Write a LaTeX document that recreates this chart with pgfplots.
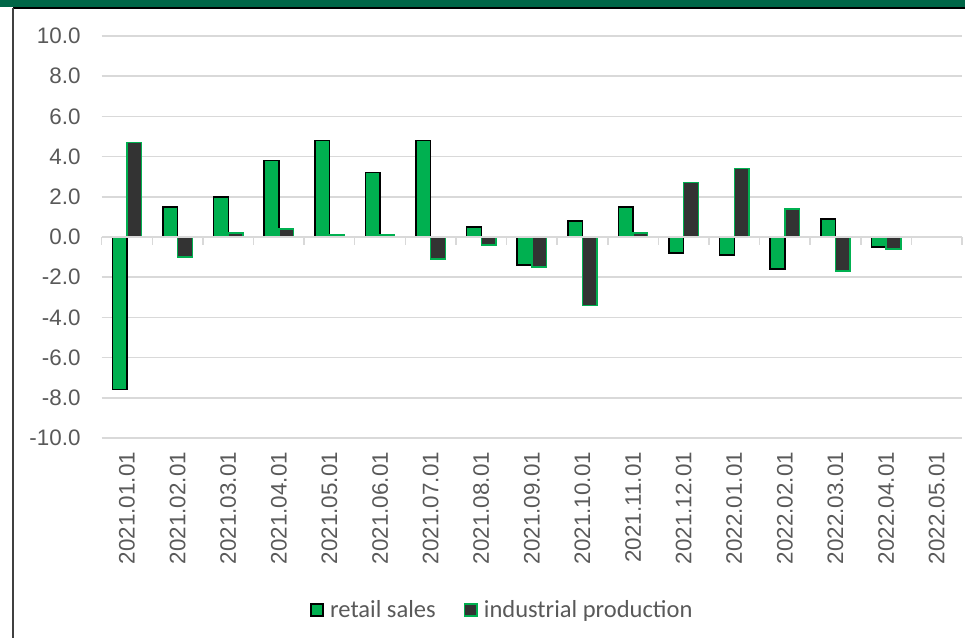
\documentclass[border=0pt]{standalone}
\usepackage{pgfplots}
\pgfplotsset{compat=1.18}
\usepackage{fontspec}
\setmainfont{Liberation Sans}
\newfontfamily\legfont{Carlito}
\definecolor{rsgreen}{RGB}{0,176,80}
\definecolor{ipdark}{RGB}{51,51,51}
\definecolor{gridgray}{RGB}{217,217,217}
\definecolor{txtgray}{RGB}{89,89,89}
\definecolor{band}{RGB}{0,102,71}
\definecolor{border}{RGB}{64,64,64}
\begin{document}
\begin{tikzpicture}
\path[use as bounding box] (0,0) rectangle (723.75pt,478.5pt);
\fill[band] (0,473.25pt) rectangle (723.75pt,478.5pt);
\draw[black,line width=1.1pt] (9.75pt,472.5pt) -- (723.75pt,472.5pt);
\draw[border,line width=1.3pt] (9.75pt,0) -- (9.75pt,472.5pt);
\begin{axis}[
 at={(76.3pt,150pt)}, anchor=south west,
 width=645.2pt, height=301.5pt, scale only axis,
 xmin=-0.5, xmax=16.5, ymin=-10, ymax=10,
 ybar=0pt, bar width=0.29,
 axis line style={draw=none},
 major tick length=0pt,
 ymajorgrids, grid style={gridgray, line width=1.1pt},
 ytick={-10,-8,...,10},
 yticklabels={-10.0,-8.0,-6.0,-4.0,-2.0,0.0,2.0,4.0,6.0,8.0,10.0},
 yticklabel style={font=\fontsize{16.8}{20}\selectfont, text=txtgray},
 yticklabel shift=12.4pt,
 xtick={0,...,16},
 xticklabels={2021.01.01,2021.02.01,2021.03.01,2021.04.01,2021.05.01,2021.06.01,2021.07.01,2021.08.01,2021.09.01,2021.10.01,2021.11.01,2021.12.01,2022.01.01,2022.02.01,2022.03.01,2022.04.01,2022.05.01},
 xticklabel style={rotate=90, anchor=east, font=\fontsize{16.8}{20}\selectfont, text=txtgray},
 xticklabel shift=7pt,
 legend columns=2,
 legend style={at={(0.466,-0.428)}, anchor=center, draw=none, fill=none,
   font=\legfont\fontsize{18.4}{22}\selectfont, text=txtgray,
   /tikz/every even column/.append style={column sep=19pt}},
]
\addplot[fill=rsgreen, draw=black, line width=1.1pt,
  legend image code/.code={%
   \draw[fill=rsgreen,draw=black,line width=1.1pt] (0pt,-4.6pt) rectangle (9.2pt,4.6pt);
   \path (12pt,0pt);}]
  coordinates {(0,-7.6) (1,1.5) (2,2.0) (3,3.8) (4,4.8) (5,3.2) (6,4.8) (7,0.5) (8,-1.4) (9,0.8) (10,1.5) (11,-0.8) (12,-0.9) (13,-1.6) (14,0.9) (15,-0.5)};
\addplot[fill=ipdark, draw=rsgreen, line width=1.1pt,
  legend image code/.code={%
   \draw[fill=ipdark,draw=rsgreen,line width=1.1pt] (0pt,-4.6pt) rectangle (9.2pt,4.6pt);
   \path (12pt,0pt);}]
  coordinates {(0,4.7) (1,-1.0) (2,0.2) (3,0.4) (4,0.1) (5,0.1) (6,-1.1) (7,-0.4) (8,-1.5) (9,-3.4) (10,0.2) (11,2.7) (12,3.4) (13,1.4) (14,-1.7) (15,-0.6)};
\legend{retail sales, industrial production}
\end{axis}
\begin{axis}[
 at={(76.3pt,300.75pt)}, anchor=south west,
 width=645.2pt, height=150.75pt, scale only axis,
 xmin=-0.5, xmax=16.5, ymin=0, ymax=10,
 axis x line*=bottom, axis y line=none,
 x axis line style={gridgray, line width=1.1pt},
 xtick={-0.5,0.5,...,16.5}, xticklabels={},
 tick align=outside, major tick length=6pt,
 xtick style={gridgray, line width=1.1pt},
]
\end{axis}
\end{tikzpicture}
\end{document}
